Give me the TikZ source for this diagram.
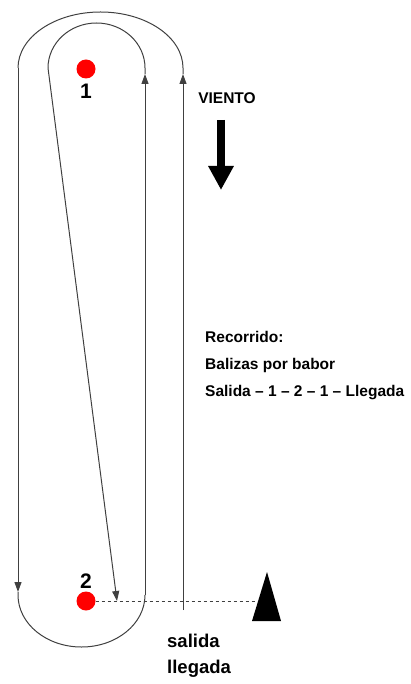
\documentclass[tikz,border=0pt]{standalone}
\usepackage{fontspec}
\setmainfont{Liberation Sans}
\usetikzlibrary{arrows.meta}

\begin{document}
\begin{tikzpicture}[x=1pt, y=-1pt, font=\bfseries\fontsize{15.5}{18}\selectfont,
	course/.style={draw=black!75, line width=1pt},
	tip/.style={-{Triangle[width=7pt, length=10pt]}},
	buoy/.style={circle, fill=red, minimum size=19pt, inner sep=0pt},
	txt/.style={anchor=west, inner sep=0pt}]
	\useasboundingbox (0,0) rectangle (410,684);

	% balizas
	\node[buoy] (baliza1) at (86,69) {};
	\node[buoy] (baliza2) at (86,601) {};
	\node[font=\bfseries\fontsize{21}{21}\selectfont] (num1) at (86,91) {1};
	\node[font=\bfseries\fontsize{21}{21}\selectfont] (num2) at (86,581) {2};

	% recorrido
	\coordinate (salida) at (183,610);
	\coordinate (a1) at (183,68);
	\coordinate (a2) at (18,68);
	\coordinate (a3) at (18,595);
	\coordinate (a4) at (145,595);
	\coordinate (a5) at (145,68);
	\coordinate (a6) at (48,68);
	\coordinate (llegada) at (117,601);
	\draw[course, tip] (salida) -- ([yshift=-6pt]a1);
	\draw[course] ([yshift=-6pt]a1) -- (a1) arc[start angle=0, end angle=-180, x radius=82.5, y radius=56];
	\draw[course, tip] (a2) -- ([yshift=3pt]a3);
	\draw[course] ([yshift=3pt]a3) -- (a3) arc[start angle=180, end angle=0, x radius=63.5, y radius=52];
	\draw[course, tip] (a4) -- ([yshift=-6pt]a5);
	\draw[course] ([yshift=-6pt]a5) -- (a5) arc[start angle=0, end angle=-180, x radius=48.5, y radius=45];
	\draw[course, tip] (a6) -- (llegada);

	% linea de salida
	\coordinate (comite) at (258,601);
	\draw[dashed, black!75, line width=0.8pt] (baliza2.east) -- (comite);
	\fill (267,572) -- (252,621) -- (281,621) -- cycle;

	% viento
	\node (viento) at (227,98) {VIENTO};
	\coordinate (v1) at (221,120);
	\coordinate (v2) at (221,190);
	\draw[line width=8pt, -{Triangle[width=24pt, length=24pt]}] (v1) -- (v2);

	\node[txt] (recorrido) at (205,337) {Recorrido:};
	\node[txt] (babor) at (205,365) {Balizas por babor};
	\node[txt] (orden) at (205,393) {Salida – 1 – 2 – 1 – Llegada};

	\node[txt, font=\bfseries\fontsize{18.5}{20}\selectfont] (salidatxt) at (167,641) {salida};
	\node[txt, font=\bfseries\fontsize{18.5}{20}\selectfont] (llegadatxt) at (167,669) {llegada};
\end{tikzpicture}
\end{document}
